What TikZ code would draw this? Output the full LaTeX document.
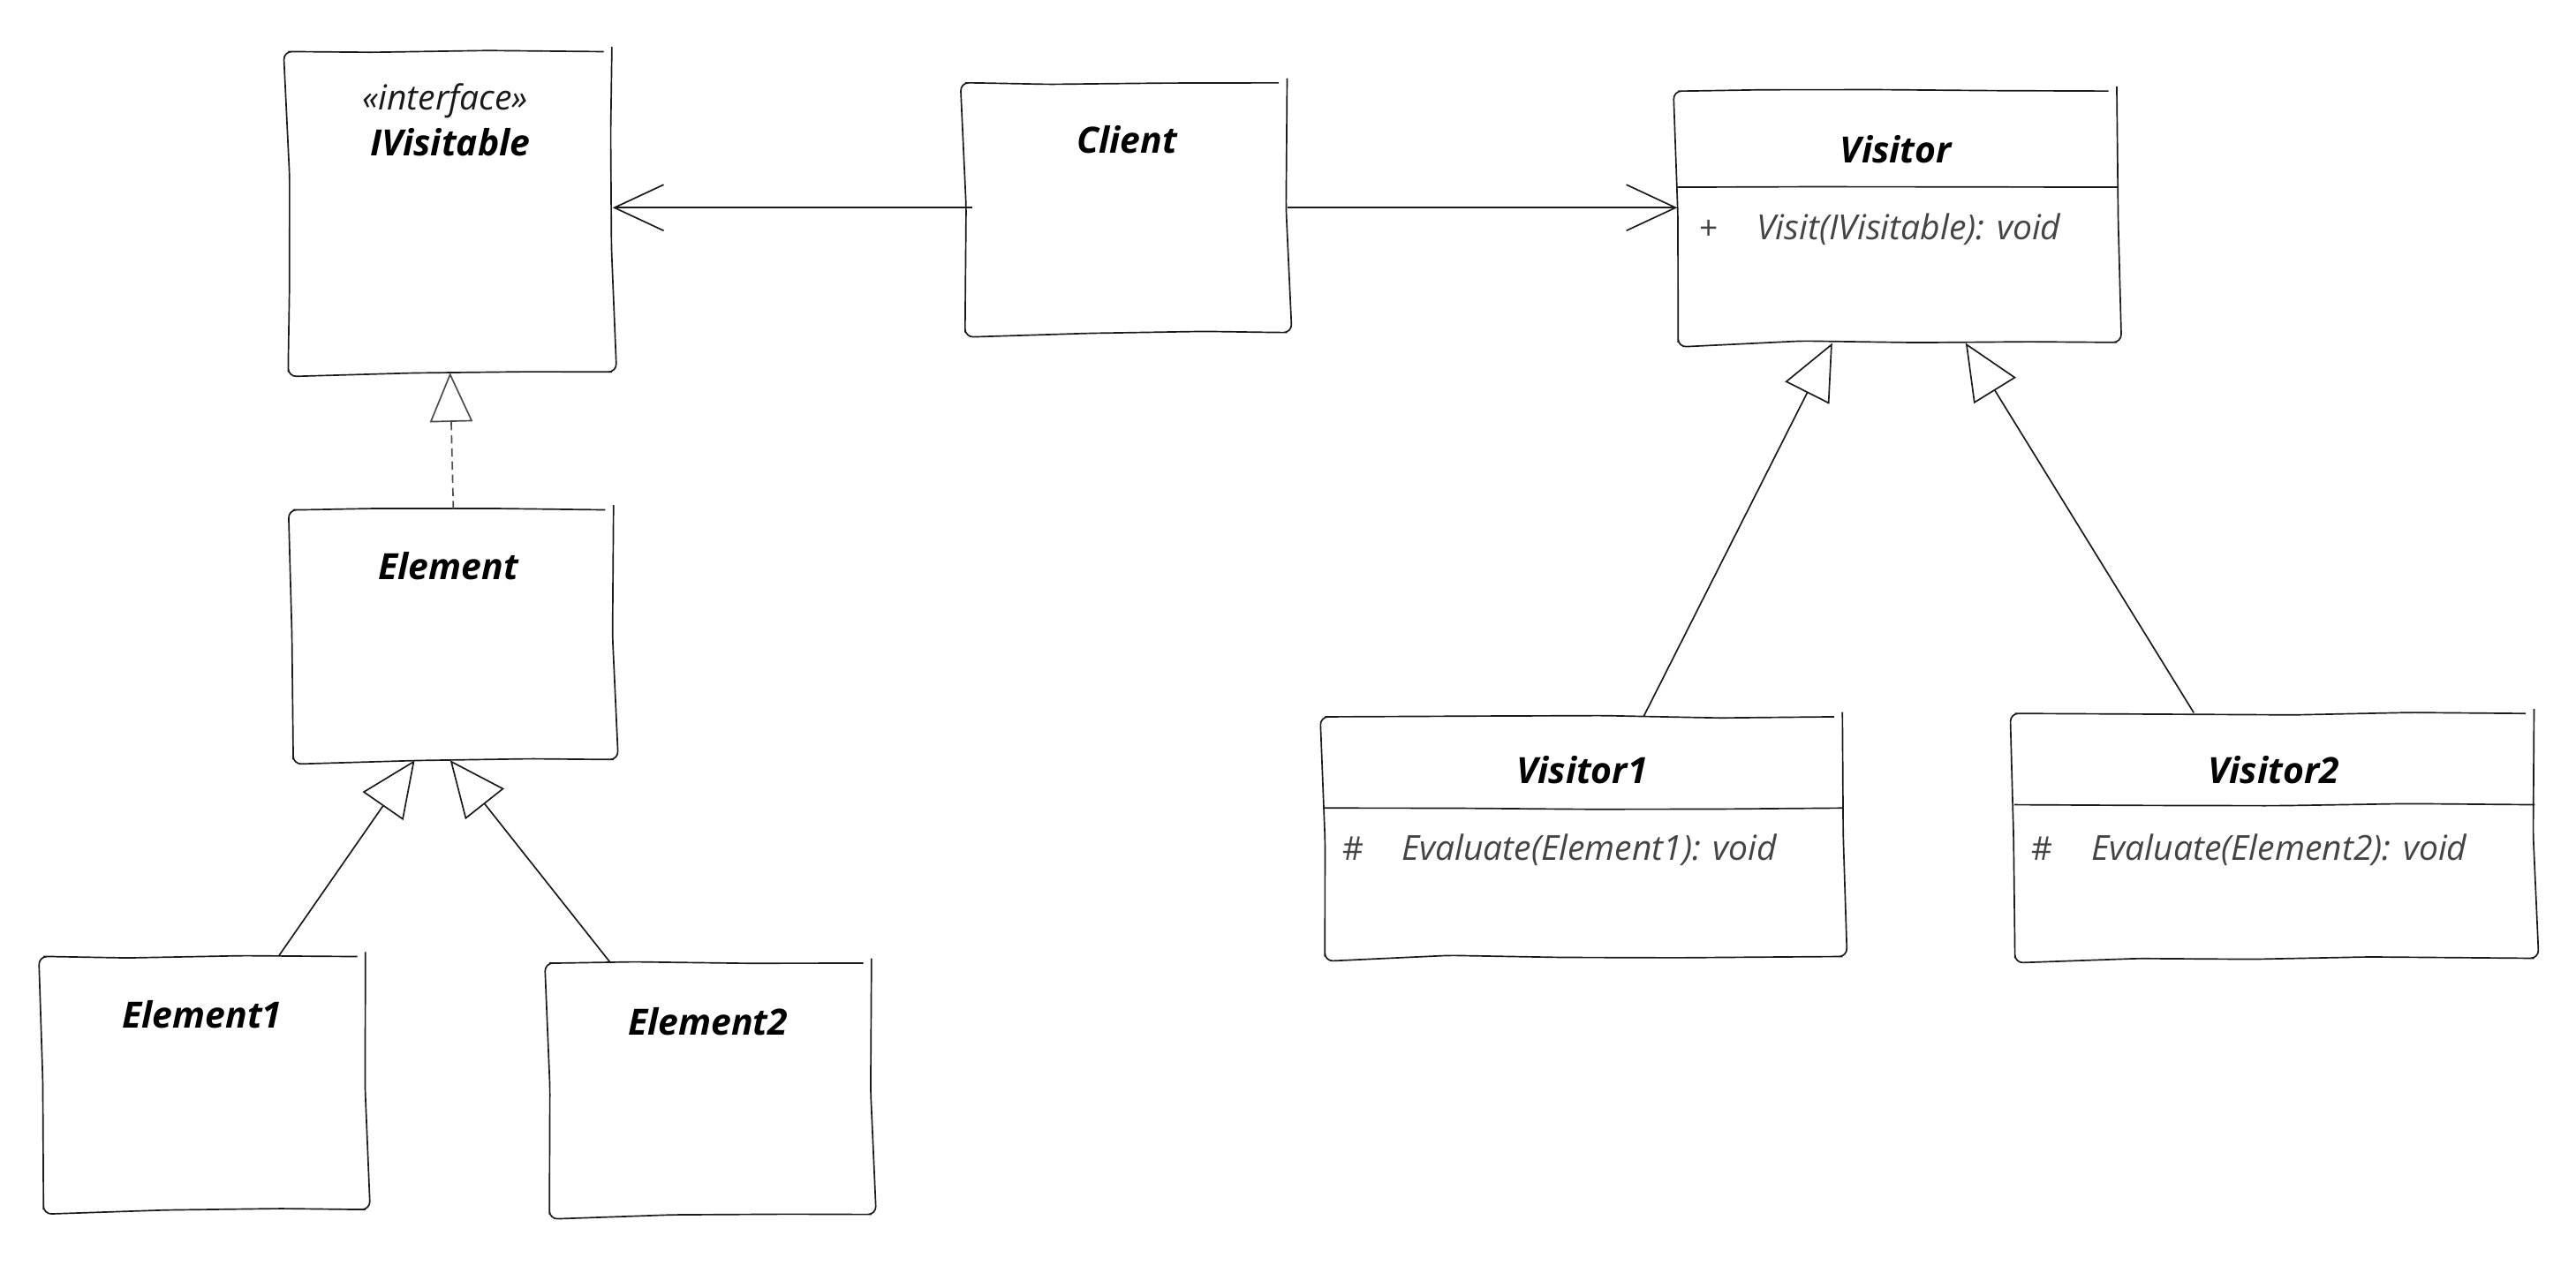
\documentclass[tikz,border=0pt]{standalone}
\usepackage{fontspec}
\setmainfont{Open Sans}
\usetikzlibrary{arrows.meta,calc,decorations.pathmorphing}

\definecolor{ink}{HTML}{1A1A1A}
\definecolor{member}{HTML}{444444}

\begin{document}
\begin{tikzpicture}[x=1pt,y=-1pt,
  sketch/.style={draw=ink, line width=0.9pt, decorate,
    decoration={random steps,segment length=70pt,amplitude=0.9pt},
    rounded corners=5pt},
  classbox/.style={sketch, anchor=north west, inner sep=0pt},
  sepline/.style={draw=ink, line width=0.9pt, decorate,
    decoration={random steps,segment length=80pt,amplitude=0.9pt},
    rounded corners=10pt},
  title/.style={font=\fontsize{22}{26}\selectfont\bfseries\itshape,
    text=black, anchor=base, inner sep=0pt},
  stereo/.style={font=\fontsize{21}{25}\selectfont\itshape,
    text=ink, anchor=base, inner sep=0pt},
  member/.style={font=\fontsize{21}{25}\selectfont\itshape,
    text=member, anchor=base west, inner sep=0pt},
  vis/.style={font=\fontsize{20}{24}\selectfont,
    text=member, anchor=base, inner sep=0pt},
  assoc/.style={draw=ink, line width=0.9pt,
    -{Straight Barb[length=30pt,width=28pt]}},
  inherit/.style={draw=ink, line width=0.9pt,
    -{Triangle[open,length=34pt,width=30pt]}},
  realize/.style={draw=black!70, line width=0.9pt, dash pattern=on 5pt off 3pt,
    -{Triangle[open,length=30pt,width=26pt]}},
]
\pgfmathsetseed{4211}
\useasboundingbox (0,0) rectangle (1568,775);
\fill[white] (0,0) rectangle (1568,775);

% ---- class boxes ----
\node[classbox, minimum width=197pt, minimum height=195pt] (ivis)   at (175,31)  {};
\node[classbox, minimum width=196pt, minimum height=152pt] (client) at (587,50)  {};
\node[classbox, minimum width=267pt, minimum height=153pt] (vis)    at (1021,55) {};
\node[classbox, minimum width=195pt, minimum height=152pt] (elem)   at (178,310) {};
\node[classbox, minimum width=196pt, minimum height=154pt] (e1)     at (26,582)  {};
\node[classbox, minimum width=196pt, minimum height=153pt] (e2)     at (334,586) {};
\node[classbox, minimum width=315pt, minimum height=146pt] (v1)     at (806,436) {};
\node[classbox, minimum width=316pt, minimum height=149pt] (v2)     at (1226,434) {};

% compartment separators
\draw[sepline] (vis.west |- 0,114) -- (vis.east |- 0,114);
\draw[sepline] (v1.west |- 0,492) -- (v1.east |- 0,492);
\draw[sepline] (v2.west |- 0,490) -- (v2.east |- 0,490);

% ---- names ----
\node[stereo] (ivisS) at (271,67) {«interface»};
\node[title]  (ivisT) at (274,95) {IVisitable};
\node[title]  (clientT) at (686,93) {Client};
\node[title]  (visT) at (1154,99) {Visitor};
\node[title]  (elemT) at (273,353) {Element};
\node[title]  (e1T) at (123,626) {Element1};
\node[title]  (e2T) at (431,630) {Element2};
\node[title]  (v1T) at (963,477) {Visitor1};
\node[title]  (v2T) at (1384,477) {Visitor2};

% ---- members ----
\node[vis]    (visP) at (1040,146) {+};
\node[member] (visM) at (1069,146) {Visit(IVisitable): void};
\node[vis]    (v1P) at (824,524) {\#};
\node[member] (v1M) at (853,524) {Evaluate(Element1): void};
\node[vis]    (v2P) at (1243,524) {\#};
\node[member] (v2M) at (1273,524) {Evaluate(Element2): void};

% ---- relations ----
\draw[assoc] ([xshift=5pt]client.west) -- (client.west -| ivis.east);
\draw[assoc] (client.east) -- (client.east -| vis.west);
\draw[realize] (elem.north) -- (ivis.south);
\draw[inherit] ($(e1.north west)!0.73!(e1.north east)$) -- ($(elem.south west)!0.38!(elem.south east)$);
\draw[inherit] ($(e2.north west)!0.19!(e2.north east)$) -- ($(elem.south west)!0.49!(elem.south east)$);
\draw[inherit] ($(v1.north west)!0.616!(v1.north east)$) -- ($(vis.south west)!0.352!(vis.south east)$);
\draw[inherit] ($(v2.north west)!0.345!(v2.north east)$) -- ($(vis.south west)!0.655!(vis.south east)$);
\end{tikzpicture}
\end{document}
